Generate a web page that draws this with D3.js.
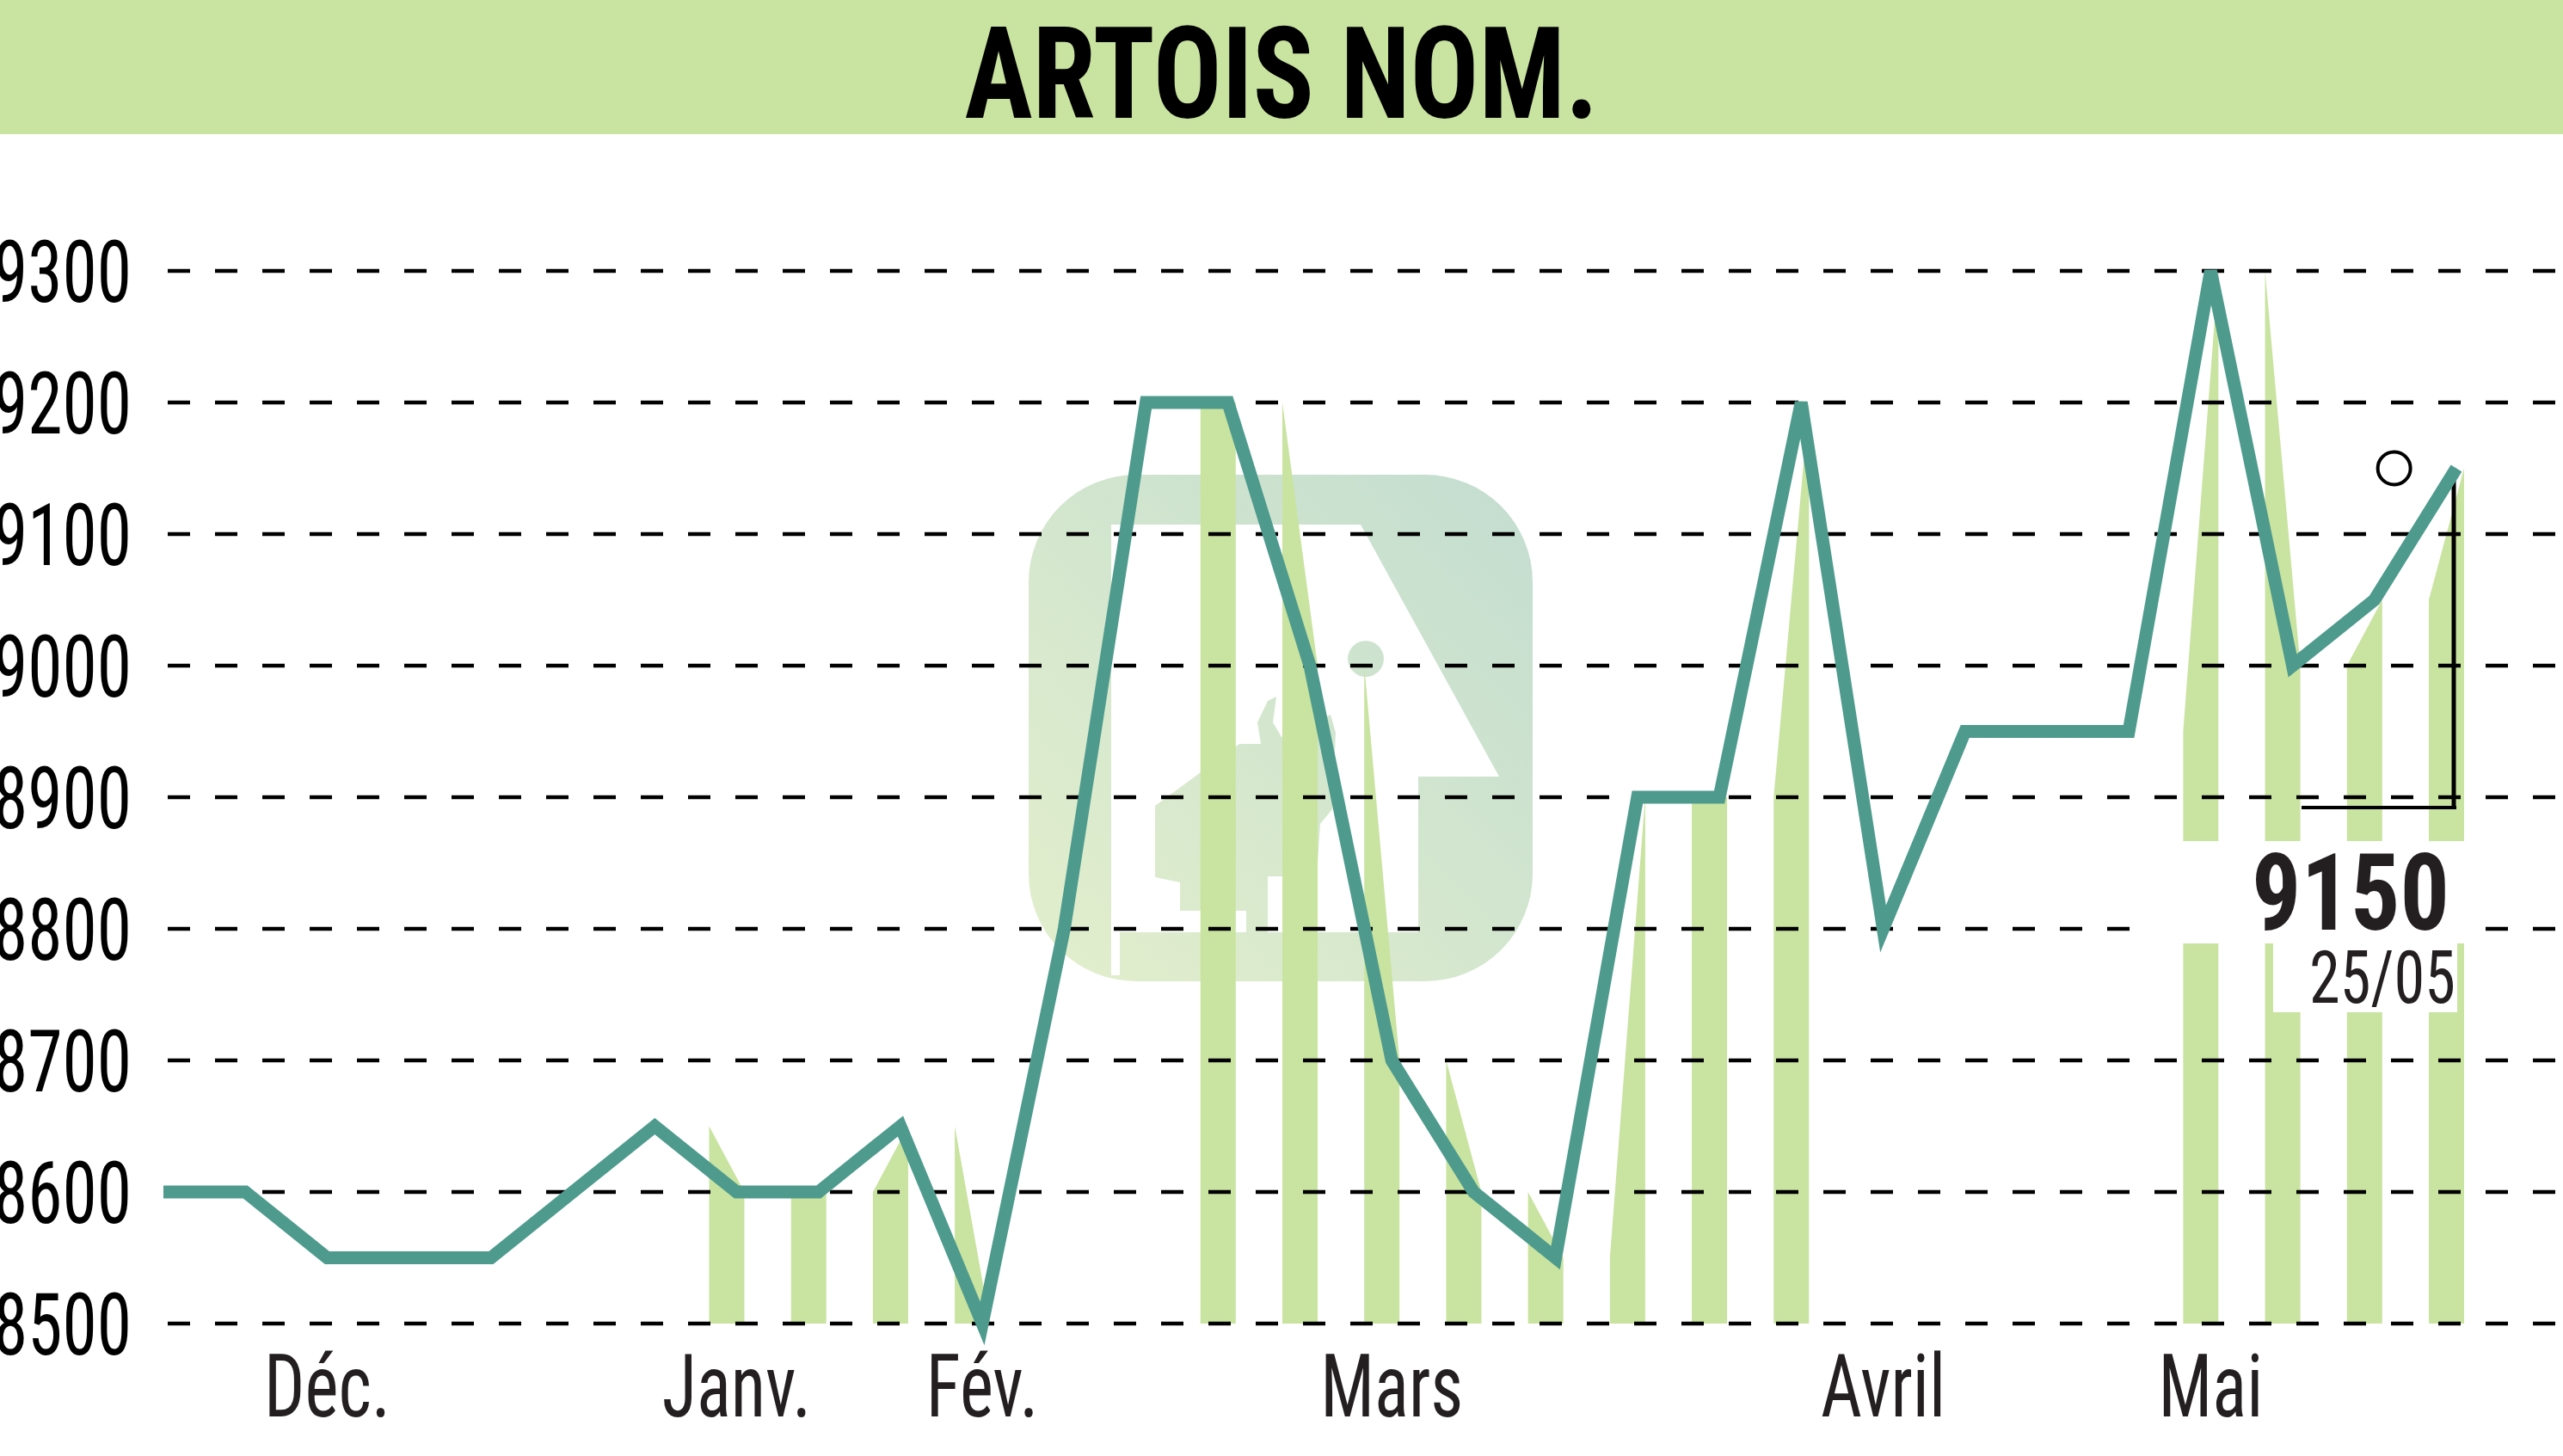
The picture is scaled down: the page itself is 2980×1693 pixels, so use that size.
<!DOCTYPE html>
<html><head><meta charset="utf-8">
<script src="https://cdn.jsdelivr.net/npm/d3@7"></script>
<style>html,body{margin:0;padding:0;background:#fff;overflow:hidden}</style>
</head><body>
<svg id="chart" width="2980" height="1693"></svg>
<script>
// ---- data ----
const title = "ARTOIS NOM.";
const prices = [8600,8600,8550,8550,8550,8600,8650,8600,8600,8650,8500,8800,9200,9200,9000,8700,8600,8550,8900,8900,9200,8800,8950,8950,8950,9300,9000,9050,9150];
const barWeeks = [7,8,9,10,13,14,15,16,17,18,19,20,25,26,27,28];
const monthLabels = ["Déc.","Janv.","Fév.","Mars","Avril","Mai"];
const monthWeeks = [2,7,10,15,21,25];
const yTicks = [8500,8600,8700,8800,8900,9000,9100,9200,9300];
const lastDate = "25/05";

// ---- layout ----
const W = 2980, H = 1693;
const FONT = "'Liberation Sans Narrow','Roboto Condensed','DejaVu Sans Condensed','Liberation Sans',sans-serif";
const GREEN = "#c9e3a0", LINE = "#4e9b8e", INK = "#231f20";
const svg = d3.select("#chart");

const x = d3.scaleLinear().domain([0, prices.length - 1]).range([190, 2856]);
const y = d3.scaleLinear().domain([8500, 9300]).range([1539, 315]);

svg.append("rect").attr("width", W).attr("height", H).attr("fill", "#fff");

// title band
svg.append("rect").attr("x", 0).attr("y", 0).attr("width", W).attr("height", 156).attr("fill", GREEN);
svg.append("text").attr("x", W / 2).attr("y", 137).attr("text-anchor", "middle")
  .attr("font-family", FONT).attr("font-weight", "bold").attr("font-size", 148).attr("fill", "#000")
  .attr("textLength", 737).attr("lengthAdjust", "spacingAndGlyphs").text(title);

// watermark logo
const defs = svg.append("defs");
const g = defs.append("linearGradient").attr("id", "wm").attr("gradientUnits", "userSpaceOnUse")
  .attr("x1", 1782).attr("y1", 552).attr("x2", 1196).attr("y2", 1141);
g.append("stop").attr("offset", 0).attr("stop-color", "#c3ddd0");
g.append("stop").attr("offset", 1).attr("stop-color", "#e3efcc");
const wm = svg.append("g");
wm.append("rect").attr("x", 1196).attr("y", 552).attr("width", 586).attr("height", 589).attr("rx", 125).attr("fill", "url(#wm)");
wm.append("polygon").attr("fill", "#fff").attr("points",
  [[1292,610],[1582,610],[1743,903],[1649,903],[1649,1084],[1302,1084],[1302,1134],[1292,1134]].join(" "));
wm.append("polygon").attr("fill", "url(#wm)").attr("points",
  [[1343,937],[1441,865],[1466,865],[1462,840],[1474,815],[1484,810],[1480,840],[1490,857],[1547,831],[1553,852],[1549,941],[1535,958],[1531,1019],[1474,1019],[1474,1084],[1449,1084],[1449,1059],[1372,1059],[1372,1026],[1343,1020]].join(" "));
wm.append("circle").attr("cx", 1588).attr("cy", 766).attr("r", 21).attr("fill", "url(#wm)");

// volume-style bars (mini area of the segment leading to each week)
const barArea = d3.area().x(d => d.x).y0(y(8500)).y1(d => y(d.v));
svg.append("g").selectAll("path").data(barWeeks).join("path")
  .attr("fill", GREEN)
  .attr("d", i => barArea([{ x: x(i) - 32, v: prices[i - 1] }, { x: x(i) + 9, v: prices[i] }]));

// gridlines
svg.append("g").selectAll("line").data(yTicks).join("line")
  .attr("x1", 195).attr("x2", W).attr("y1", d => y(d)).attr("y2", d => y(d))
  .attr("stroke", "#000").attr("stroke-width", 4.5).attr("stroke-dasharray", "26,29");

// annotation white boxes
svg.append("rect").attr("x", 2480).attr("y", 978).attr("width", 390).attr("height", 119).attr("fill", "#fff");
svg.append("rect").attr("x", 2643).attr("y", 1097).attr("width", 214).attr("height", 80).attr("fill", "#fff");

// annotation bracket
const li = prices.length - 1;
svg.append("line").attr("x1", x(li) - 180).attr("x2", x(li)).attr("y1", 939).attr("y2", 939)
  .attr("stroke", "#000").attr("stroke-width", 4);
svg.append("line").attr("x1", x(li) - 3).attr("x2", x(li) - 3).attr("y1", y(prices[li])).attr("y2", 941)
  .attr("stroke", "#000").attr("stroke-width", 5);

// price line
svg.append("path").datum(prices)
  .attr("fill", "none").attr("stroke", LINE).attr("stroke-width", 15)
  .attr("stroke-linejoin", "miter").attr("stroke-miterlimit", 4)
  .attr("d", d3.line().x((d, i) => x(i)).y(d => y(d)));

// marker circle
svg.append("circle").attr("cx", x(li - 0.76)).attr("cy", y(prices[li])).attr("r", 19)
  .attr("fill", "none").attr("stroke", "#000").attr("stroke-width", 4);

// condensed factor from a reference string
const probe = svg.append("text").attr("font-family", FONT).attr("font-size", 100).text("9300");
const factor = 161 / probe.node().getComputedTextLength();
probe.remove();
function condense(sel) {
  sel.each(function () {
    const len = this.getComputedTextLength();
    d3.select(this).attr("textLength", len * factor).attr("lengthAdjust", "spacingAndGlyphs");
  });
}

// y labels
svg.append("g").selectAll("text").data(yTicks).join("text")
  .attr("x", 153).attr("y", d => y(d) + 36).attr("text-anchor", "end")
  .attr("font-family", FONT).attr("font-size", 100).attr("fill", "#000")
  .text(d => d).call(condense);

// month labels
svg.append("g").selectAll("text").data(monthLabels).join("text")
  .attr("x", (d, i) => x(monthWeeks[i])).attr("y", 1647).attr("text-anchor", "middle")
  .attr("font-family", FONT).attr("font-size", 102).attr("fill", INK)
  .text(d => d).call(condense);

// last value annotation
svg.append("text").attr("x", 2848).attr("y", 1081).attr("text-anchor", "end")
  .attr("font-family", FONT).attr("font-weight", "bold").attr("font-size", 125).attr("fill", INK)
  .attr("textLength", 230).attr("lengthAdjust", "spacingAndGlyphs").text(prices[li]);
svg.append("text").attr("x", 2855).attr("y", 1166).attr("text-anchor", "end")
  .attr("font-family", FONT).attr("font-size", 86).attr("fill", INK)
  .attr("textLength", 170).attr("lengthAdjust", "spacingAndGlyphs").text(lastDate);
</script>
</body></html>
